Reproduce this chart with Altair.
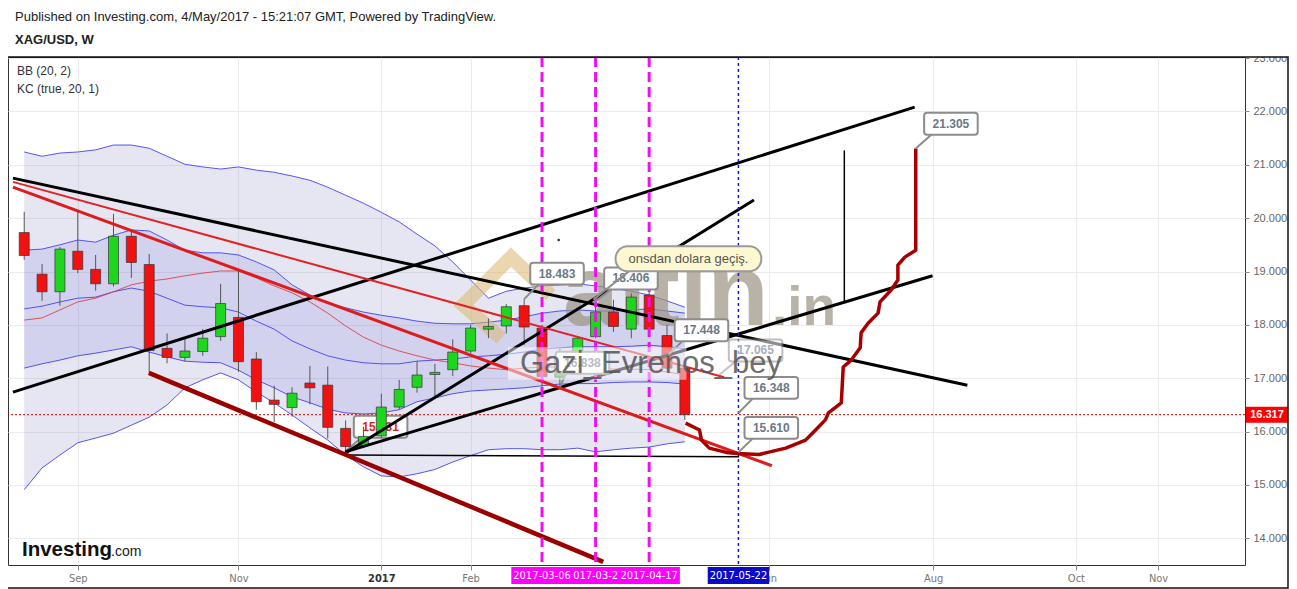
import altair as alt
import pandas as pd

# ---------------- weekly candles (XAG/USD, W) ----------------
dates = ["2016-08-15", "2016-08-22", "2016-08-29", "2016-09-05", "2016-09-12", "2016-09-19", "2016-09-26",
         "2016-10-03", "2016-10-10", "2016-10-17", "2016-10-24", "2016-10-31", "2016-11-07", "2016-11-14",
         "2016-11-21", "2016-11-28", "2016-12-05", "2016-12-12", "2016-12-19", "2016-12-26", "2017-01-02",
         "2017-01-09", "2017-01-16", "2017-01-23", "2017-01-30", "2017-02-06", "2017-02-13", "2017-02-20",
         "2017-02-27", "2017-03-06", "2017-03-13", "2017-03-20", "2017-03-27", "2017-04-03", "2017-04-10",
         "2017-04-17", "2017-04-24", "2017-05-01"]
opens = [19.73, 18.95, 18.62, 19.38, 19.04, 18.77, 19.66, 19.13, 17.56, 17.39, 17.50, 17.78, 18.14, 17.36,
         16.59, 16.45, 16.91, 16.87, 16.06, 15.74, 15.92, 16.46, 16.83, 17.07, 17.16, 17.51, 17.92, 17.98,
         18.36, 17.94, 17.02, 17.39, 17.78, 18.24, 17.92, 18.56, 17.80, 17.19]
highs = [20.12, 19.14, 19.46, 20.12, 19.31, 20.08, 19.78, 19.33, 17.84, 17.77, 17.92, 18.77, 19.03, 17.49,
         16.86, 16.83, 17.23, 17.22, 16.21, 16.09, 16.71, 16.97, 17.32, 17.27, 17.73, 18.00, 18.12, 18.39,
         18.48, 18.00, 17.56, 17.76, 18.40, 18.47, 18.59, 18.65, 18.00, 17.20]
lows = [19.22, 18.45, 18.36, 18.97, 18.64, 18.72, 18.88, 17.10, 17.28, 17.32, 17.42, 17.70, 17.12, 16.41,
        16.18, 16.28, 16.51, 15.87, 15.63, 15.69, 15.88, 16.41, 16.73, 16.64, 17.04, 17.47, 17.75, 17.84,
        17.62, 16.84, 16.84, 17.34, 17.75, 17.87, 17.75, 17.87, 17.16, 16.22]
closes = [19.30, 18.62, 19.42, 19.04, 18.77, 19.66, 19.17, 17.52, 17.39, 17.51, 17.75, 18.40, 17.31, 16.56,
          16.51, 16.72, 16.82, 16.08, 15.72, 15.91, 16.46, 16.79, 17.06, 17.11, 17.49, 17.94, 17.97, 18.34,
          17.96, 17.03, 17.40, 17.75, 18.24, 17.97, 18.52, 17.92, 17.19, 16.317]

# ---------------- indicators ----------------
bb_upper = [21.24, 21.16, 21.22, 21.24, 21.28, 21.37, 21.37, 21.31, 21.16, 21.01, 20.96, 20.92, 20.96, 20.90,
            20.86, 20.79, 20.71, 20.58, 20.43, 20.28, 20.11, 19.93, 19.70, 19.48, 19.18, 18.84, 18.50, 18.63,
            18.69, 18.73, 18.75, 18.77, 18.73, 18.69, 18.63, 18.56, 18.45, 18.33]
bb_basis = [18.09, 18.13, 18.28, 18.43, 18.50, 18.62, 18.75, 18.82, 18.86, 18.92, 18.97, 19.01, 19.01, 18.88,
            18.73, 18.60, 18.43, 18.22, 17.98, 17.77, 17.62, 17.51, 17.42, 17.34, 17.29, 17.23, 17.19, 17.16,
            17.19, 17.21, 17.21, 17.23, 17.19, 17.17, 17.17, 17.16, 17.12, 17.06]
bb_lower = [14.91, 15.32, 15.56, 15.79, 15.88, 15.97, 16.12, 16.27, 16.50, 16.82, 16.97, 17.10, 16.97, 16.74,
            16.54, 16.31, 16.07, 15.84, 15.56, 15.34, 15.17, 15.15, 15.21, 15.29, 15.43, 15.55, 15.66, 15.68,
            15.68, 15.66, 15.66, 15.69, 15.62, 15.66, 15.69, 15.71, 15.77, 15.81]
kc_upper = [19.40, 19.42, 19.50, 19.59, 19.55, 19.68, 19.78, 19.76, 19.59, 19.40, 19.35, 19.35, 19.31, 19.18,
            19.03, 18.75, 18.56, 18.41, 18.32, 18.24, 18.18, 18.13, 18.07, 18.03, 18.02, 18.02, 18.05, 18.09,
            18.15, 18.22, 18.26, 18.28, 18.26, 18.26, 18.28, 18.30, 18.26, 18.22]
kc_basis = [18.30, 18.35, 18.43, 18.50, 18.52, 18.62, 18.69, 18.63, 18.50, 18.37, 18.34, 18.32, 18.24, 18.07,
            17.92, 17.70, 17.55, 17.42, 17.34, 17.29, 17.27, 17.27, 17.32, 17.34, 17.36, 17.40, 17.42, 17.45,
            17.49, 17.55, 17.57, 17.59, 17.59, 17.59, 17.60, 17.62, 17.59, 17.55]
kc_lower = [17.19, 17.27, 17.34, 17.42, 17.47, 17.53, 17.59, 17.49, 17.40, 17.32, 17.30, 17.29, 17.15, 16.97,
            16.82, 16.65, 16.54, 16.42, 16.35, 16.33, 16.35, 16.41, 16.56, 16.63, 16.71, 16.76, 16.78, 16.80,
            16.82, 16.86, 16.89, 16.90, 16.90, 16.92, 16.93, 16.93, 16.92, 16.89]

# ---------------- drawings (week offset from 2016-08-15, price) ----------------
seg_kind = ["black", "black", "black", "black", "thin", "thin", "red", "redthin", "darkred"]
seg_week1 = [-0.63, -0.63, 17.98, 17.98, 17.98, 45.93, -0.63, -0.63, 6.98]
seg_price1 = [20.75, 16.74, 15.60, 15.62, 15.56, 21.27, 20.58, 20.68, 17.10]
seg_week2 = [52.82, 49.87, 40.87, 50.87, 40.04, 45.93, 41.87, 39.20, 32.43]
seg_price2 = [16.87, 22.08, 20.34, 18.92, 15.53, 18.43, 15.36, 17.02, 13.56]

curve_week = [37.04, 37.82, 37.93, 38.37, 39.32, 39.93, 41.15, 42.65, 43.76, 44.32, 44.87, 45.04, 45.76,
              45.87, 46.32, 46.82, 46.87, 47.26, 47.82, 47.93, 48.54, 48.93, 48.93, 49.32, 49.93, 49.93]
curve_price = [16.16, 16.03, 15.84, 15.69, 15.61, 15.59, 15.57, 15.69, 15.84, 16.03, 16.22, 16.35, 16.54,
               17.21, 17.34, 17.57, 17.85, 18.03, 18.22, 18.43, 18.65, 18.84, 19.12, 19.27, 19.40, 21.305]

callout_text = ["15.831", "18.483", "18.406", "16.838", "17.448", "17.065", "16.348", "15.610", "21.305"]
callout_anchor_week = [18.0, 28.0, 31.87, 30.0, 36.1, 38.93, 40.0, 40.0, 49.93]
callout_anchor_price = [15.63, 18.483, 18.41, 16.84, 17.448, 17.065, 16.348, 15.61, 21.305]
callout_box_week = [19.96, 29.84, 33.98, 31.26, 37.93, 40.96, 41.84, 41.84, 51.9]
callout_box_price = [16.09, 18.96, 18.87, 17.29, 17.90, 17.52, 16.82, 16.07, 21.77]
callout_level = ["under", "over", "over", "over", "over", "over", "over", "over", "over"]
callout_tone = ["red", "gray", "gray", "gray", "gray", "faint", "gray", "gray", "gray"]

note_text = ["onsdan dolara geçiş."]
note_box_week = [37.2]
note_box_price = [19.24]
note_anchor_week = [31.87]
note_anchor_price = [18.47]

dot_week = [29.93]
dot_price = [19.59]

logo_week = [29.48, 27.26, 24.59, 26.71]
logo_price = [18.56, 19.27, 18.37, 17.75]

marker_dates = ["2017-03-27", "2017-03-06", "2017-04-17", "2017-05-22"]
marker_kind = ["magenta", "magenta", "magenta", "blue"]

tick_weeks = [3, 12, 20, 25, 41.7, 50.9, 58.9, 63.5]
tick_labels = ["Sep", "Nov", "2017", "Feb", "Jun", "Aug", "Oct", "Nov"]
price_ticks = [14, 15, 16, 17, 18, 19, 20, 21, 22, 23]

header_lines = ["Published on Investing.com, 4/May/2017 - 15:21:07 GMT, Powered by TradingView.", "XAG/USD, W"]
legend_lines = ["BB (20, 2)", "KC (true, 20, 1)"]

# ---------------- tables ----------------
start = pd.Timestamp("2016-08-15")
week = [(pd.Timestamp(d) - start).days / 7 for d in dates]

candles = pd.DataFrame({"week": week, "open": opens, "high": highs, "low": lows, "close": closes})
candles["dir"] = ["up" if c >= o else "down" for o, c in zip(opens, closes)]

bands = pd.DataFrame({"week": week, "bb_upper": bb_upper, "bb_basis": bb_basis, "bb_lower": bb_lower,
                      "kc_upper": kc_upper, "kc_basis": kc_basis, "kc_lower": kc_lower})
band_long = bands.melt("week", var_name="series", value_name="price")

segs = pd.DataFrame({"kind": seg_kind, "w1": seg_week1, "p1": seg_price1, "w2": seg_week2, "p2": seg_price2})
curve = pd.DataFrame({"week": curve_week, "price": curve_price, "order": list(range(len(curve_week)))})
callouts = pd.DataFrame({"text": callout_text, "aw": callout_anchor_week, "ap": callout_anchor_price,
                         "bw": callout_box_week, "bp": callout_box_price, "level": callout_level,
                         "tone": callout_tone})
note = pd.DataFrame({"text": note_text, "bw": note_box_week, "bp": note_box_price,
                     "aw": note_anchor_week, "ap": note_anchor_price})
markers = pd.DataFrame({"date": marker_dates, "kind": marker_kind})
markers["week"] = [(pd.Timestamp(d) - start).days / 7 for d in marker_dates]
last = pd.DataFrame({"price": [closes[-1]], "label": [f"{closes[-1]:.3f}"]})
logo = pd.DataFrame({"week": logo_week, "price": logo_price, "order": list(range(len(logo_week)))})
dots = pd.DataFrame({"week": dot_week, "price": dot_price})

# ---------------- scales / axes ----------------
XS = alt.Scale(domain=[-0.628, 68.09], nice=False, zero=False)
YS = alt.Scale(domain=[13.50, 23.02], nice=False, zero=False)
NARROW = "Liberation Sans Narrow, DejaVu Sans Condensed, sans-serif"
SANS = "Liberation Sans, Arial, sans-serif"

label_expr = " : ".join(f"datum.value == {w} ? '{t}'" for w, t in zip(tick_weeks, tick_labels)) + " : ''"
x_axis = alt.Axis(values=tick_weeks, labelExpr=label_expr, grid=True, gridColor="#ebebeb", domain=False,
                  tickColor="#888", tickSize=5, labelColor={"expr": "datum.value == 20 ? '#333' : '#777'"},
                  labelFontWeight={"expr": "datum.value == 20 ? 'bold' : 'normal'"},
                  labelFontSize=11, labelFont=NARROW, labelPadding=2, title=None, labelFlush=False,
                  labelOverlap=False)
y_axis = alt.Axis(orient="right", values=price_ticks, format=".3f", grid=True, gridColor="#ebebeb",
                  domain=False, tickColor="#888", tickSize=4, labelColor="#666", labelFontSize=11,
                  labelFont=SANS, labelPadding=4, title=None, labelFlush=False)


def X(f):
    return alt.X(f, type="quantitative", scale=XS, axis=x_axis)


def Y(f):
    return alt.Y(f, type="quantitative", scale=YS, axis=y_axis)


layers = []

# indicator fills and lines
layers.append(alt.Chart(bands).mark_area(color="#8080c0", opacity=0.2).encode(
    x=X("week"), y=Y("bb_upper"), y2="bb_lower"))
layers.append(alt.Chart(bands).mark_area(color="#4040e0", opacity=0.12).encode(
    x=X("week"), y=Y("kc_upper"), y2="kc_lower"))
layers.append(alt.Chart(band_long).transform_filter(alt.datum.series != "bb_basis").mark_line(
    strokeWidth=1, opacity=0.85, color="#3a3af0").encode(x=X("week"), y=Y("price"), detail="series:N"))
layers.append(alt.Chart(band_long).transform_filter(alt.datum.series == "bb_basis").mark_line(
    strokeWidth=1, opacity=0.85, color="#e03838").encode(x=X("week"), y=Y("price")))

# site watermark (behind candles)
layers.append(alt.Chart(logo).mark_line(color="#d9b76e", strokeWidth=14, opacity=0.55,
                                        strokeJoin="miter").encode(
    x=X("week"), y=Y("price"), order="order:Q"))
layers.append(alt.Chart(pd.DataFrame({"t": ["altin"]})).mark_text(
    align="left", baseline="alphabetic", fontSize=100, fontWeight="bold", font=SANS, color="#9c9482",
    opacity=0.7).encode(x=alt.value(555), y=alt.value(268), text="t:N"))
layers.append(alt.Chart(pd.DataFrame({"t": [".in"]})).mark_text(
    align="left", baseline="alphabetic", fontSize=55, fontWeight="bold", font=SANS, color="#9c9482",
    opacity=0.7).encode(x=alt.value(764), y=alt.value(268), text="t:N"))

# current price dotted line
layers.append(alt.Chart(last).mark_rule(color="#cc0000", strokeWidth=1, strokeDash=[2, 2]).encode(
    y=Y("price")))

TONE_COLORS = {"red": "#dd2222", "gray": "#6b7888", "faint": "#a8b0bc"}


def callout_layers(level):
    src = alt.Chart(callouts).transform_filter(alt.datum.level == level)
    out = [
        src.transform_calculate(tw="datum.bw - 0.8", tp="datum.bp - 0.12").mark_rule(
            color="#8c8c8c", strokeWidth=2).encode(
            x=X("aw"), y=Y("ap"), x2="tw:Q", y2="tp:Q",
            opacity=alt.condition(alt.datum.tone == "faint", alt.value(0.5), alt.value(1))),
        src.transform_calculate(x1="datum.bw - 1.5", x2="datum.bw + 1.5",
                                y1="datum.bp - 0.205", y2="datum.bp + 0.205").mark_rect(
            fill="white", stroke="#8c8c8c", strokeWidth=2, cornerRadius=3).encode(
            x=X("x1:Q"), x2="x2:Q", y=Y("y1:Q"), y2="y2:Q",
            opacity=alt.condition(alt.datum.tone == "faint", alt.value(0.55), alt.value(1))),
    ]
    for tone, col in TONE_COLORS.items():
        out.append(src.transform_filter(alt.datum.tone == tone).mark_text(
            fontSize=12, fontWeight="bold", font=SANS, color=col).encode(
            x=X("bw"), y=Y("bp"), text="text:N"))
    return out


layers += callout_layers("under")

# candles
layers.append(alt.Chart(candles).mark_rule(color="#555", strokeWidth=1).encode(
    x=X("week"), y=Y("low"), y2="high"))
layers.append(alt.Chart(candles).transform_filter(alt.datum.dir == "up").mark_bar(
    size=10, stroke="#333", strokeWidth=0.7, fill="#1fd61f").encode(x=X("week"), y=Y("open"), y2="close"))
layers.append(alt.Chart(candles).transform_filter(alt.datum.dir == "down").mark_bar(
    size=10, stroke="#333", strokeWidth=0.7, fill="#f21111").encode(x=X("week"), y=Y("open"), y2="close"))

# straight drawings
SEG_STYLE = {"black": ("#000000", 3), "thin": ("#000000", 1.5), "red": ("#dd1c1c", 3),
             "redthin": ("#e02424", 2), "darkred": ("#9b0000", 4.5)}
for kind, (col, sw) in SEG_STYLE.items():
    layers.append(alt.Chart(segs).transform_filter(alt.datum.kind == kind).mark_rule(
        clip=True, color=col, strokeWidth=sw).encode(x=X("w1"), y=Y("p1"), x2="w2:Q", y2="p2:Q"))
layers.append(alt.Chart(dots).mark_point(filled=True, size=6, color="#222", opacity=1).encode(
    x=X("week"), y=Y("price")))

# vertical date markers
layers.append(alt.Chart(markers).transform_filter(alt.datum.kind == "magenta").mark_rule(
    color="#ee11ee", strokeWidth=3, strokeDash=[10, 5]).encode(x=X("week")))
layers.append(alt.Chart(markers).transform_filter(alt.datum.kind == "blue").mark_rule(
    color="#1a1acc", strokeWidth=1.5, strokeDash=[3, 3]).encode(x=X("week")))

# freehand projection
layers.append(alt.Chart(curve).mark_line(color="#a80000", strokeWidth=3.5, strokeJoin="round").encode(
    x=X("week"), y=Y("price"), order="order:Q"))

layers += callout_layers("over")

# note callout
layers.append(alt.Chart(note).transform_calculate(tw="datum.bw - 3.2", tp="datum.bp - 0.2").mark_rule(
    color="#8c8c8c", strokeWidth=2).encode(x=X("aw"), y=Y("ap"), x2="tw:Q", y2="tp:Q"))
layers.append(alt.Chart(note).transform_calculate(
    x1="datum.bw - 4.08", x2="datum.bw + 4.08", y1="datum.bp - 0.234", y2="datum.bp + 0.234").mark_rect(
    fill="#fdf8cf", stroke="#9a9a9a", strokeWidth=2, cornerRadius=12).encode(
    x=X("x1:Q"), x2="x2:Q", y=Y("y1:Q"), y2="y2:Q"))
layers.append(alt.Chart(note).mark_text(fontSize=13, font=SANS, color="#555").encode(
    x=X("bw"), y=Y("bp"), text="text:N"))

# author watermark with translucent backing
gz = pd.DataFrame({"w1": [27.09], "w2": [37.09], "p1": [16.97], "p2": [17.58]})
layers.append(alt.Chart(gz).mark_rect(fill="white", opacity=0.5).encode(
    x=X("w1"), x2="w2:Q", y=Y("p1"), y2="p2:Q"))
layers.append(alt.Chart(pd.DataFrame({"t": ["Gazi_Evrenos_bey"]})).mark_text(
    align="left", baseline="alphabetic", fontSize=31, font=SANS, color="#555", opacity=0.85).encode(
    x=alt.value(512), y=alt.value(316), text="t:N"))

# date boxes on time axis (middle one underneath its neighbours)
for d, k in zip(marker_dates, marker_kind):
    fill = "#ff00ff" if k == "magenta" else "#0a0ac8"
    src = alt.Chart(markers).transform_filter(alt.datum.date == d)
    layers.append(src.transform_calculate(x1="datum.week - 1.72", x2="datum.week + 1.72").mark_rect(
        fill=fill).encode(x=X("x1:Q"), x2="x2:Q", y=alt.value(510), y2=alt.value(527)))
    layers.append(src.mark_text(color="white", fontSize=11, font=NARROW).encode(
        x=X("week"), y=alt.value(518.5), text="date:N"))

# last price tag on the price axis
layers.append(alt.Chart(last).transform_calculate(y1="datum.price - 0.15", y2="datum.price + 0.15").mark_rect(
    fill="#ff0000").encode(x=alt.value(1238), x2=alt.value(1280), y=Y("y1:Q"), y2="y2:Q"))
layers.append(alt.Chart(last).mark_text(color="white", fontSize=11, fontWeight="bold", font=SANS).encode(
    x=alt.value(1259), y=Y("price"), text="label:N"))

# header, legend and logo texts
layers.append(alt.Chart(pd.DataFrame({"t": [header_lines[0]]})).mark_text(
    align="left", baseline="middle", fontSize=13, font=SANS, color="#222").encode(
    x=alt.value(7), y=alt.value(-40), text="t:N"))
layers.append(alt.Chart(pd.DataFrame({"t": [header_lines[1]]})).mark_text(
    align="left", baseline="middle", fontSize=13, fontWeight="bold", font=SANS, color="#222").encode(
    x=alt.value(7), y=alt.value(-17), text="t:N"))
layers.append(alt.Chart(pd.DataFrame({"t": [legend_lines[0]]})).mark_text(
    align="left", baseline="middle", fontSize=12, font=SANS, color="#333").encode(
    x=alt.value(9), y=alt.value(14), text="t:N"))
layers.append(alt.Chart(pd.DataFrame({"t": [legend_lines[1]]})).mark_text(
    align="left", baseline="middle", fontSize=12, font=SANS, color="#333").encode(
    x=alt.value(9), y=alt.value(32), text="t:N"))
layers.append(alt.Chart(pd.DataFrame({"t": ["Investing"]})).mark_text(
    align="left", baseline="alphabetic", fontSize=20.5, fontWeight="bold", font=SANS, color="#111").encode(
    x=alt.value(14), y=alt.value(499), text="t:N"))
layers.append(alt.Chart(pd.DataFrame({"t": [".com"]})).mark_text(
    align="left", baseline="alphabetic", fontSize=14, font=SANS, color="#222").encode(
    x=alt.value(103), y=alt.value(499), text="t:N"))

# mask above the top price label, then the outer frame
frame = pd.DataFrame({"a": [0]})
layers.append(alt.Chart(frame).mark_rect(fill="white").encode(
    x=alt.value(1238), x2=alt.value(1280), y=alt.value(-14), y2=alt.value(0)))
layers.append(alt.Chart(frame).mark_rect(fill="transparent", stroke="#111", strokeWidth=1.5).encode(
    x=alt.value(-1), x2=alt.value(1280), y=alt.value(0), y2=alt.value(531)))

chart = alt.layer(*layers).properties(
    width=1237, height=508,
    autosize=alt.AutoSizeParams(type="none"),
    padding={"left": 0, "top": 49, "right": 44, "bottom": 24},
).configure(font=SANS, background="white").configure_view(stroke="#333", strokeWidth=1)

chart.save("out.html", embed_options={"renderer": "svg", "actions": False})
